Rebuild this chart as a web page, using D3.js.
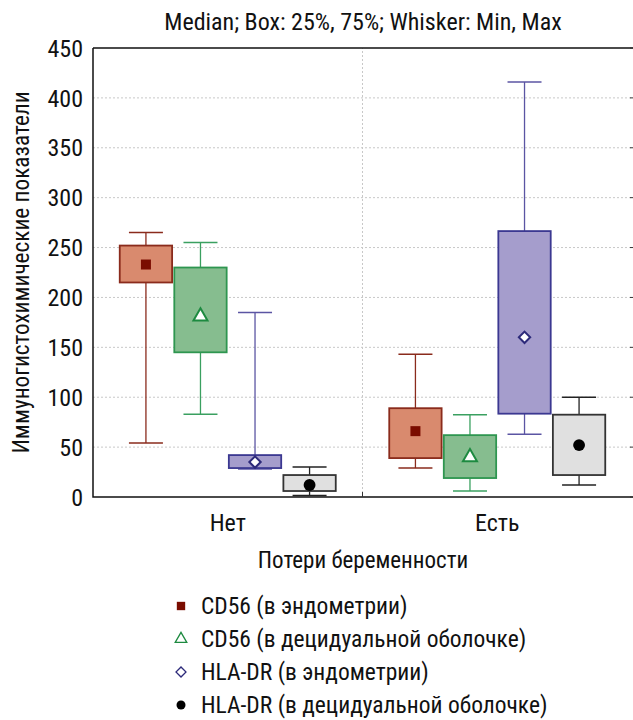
<!DOCTYPE html>
<html>
<head>
<meta charset="utf-8">
<script src="https://cdn.jsdelivr.net/npm/d3@7"></script>
<style>
body { margin: 0; background: #fff; }
svg text { font-family: "Roboto Condensed", "Liberation Sans Narrow", "DejaVu Sans Condensed", sans-serif; fill: #111; }
</style>
</head>
<body>
<svg id="chart" width="633" height="720"></svg>
<script>
// data
var groups = ["Нет", "Есть"];
var seriesNames = ["CD56 (в эндометрии)", "CD56 (в децидуальной оболочке)", "HLA-DR (в эндометрии)", "HLA-DR (в децидуальной оболочке)"];
var yTicks = [0, 50, 100, 150, 200, 250, 300, 350, 400, 450];
// per series: [Нет, Есть]
var minVals    = [[54, 29], [83, 6], [28, 63], [1.5, 12]];
var q1Vals     = [[215, 39], [145, 19], [29, 83.5], [6, 22]];
var medianVals = [[233, 66], [181, 40], [35, 160], [12, 52]];
var q3Vals     = [[252, 89], [230, 62], [42, 266.5], [22, 82.5]];
var maxVals    = [[265, 143], [255, 82.5], [185, 416], [30, 100]];

var fills   = ["#d98a6e", "#86bd8f", "#a59dcc", "#e0e0e0"];
var strokes = ["#8a2b1c", "#2e9650", "#3b3891", "#333333"];
var whisk   = ["#8a2b1c", "#3aa060", "#5b55a3", "#222222"];
// diamond is a square turned by 45 degrees
var symbols = [d3.symbolSquare, d3.symbolTriangle, d3.symbolSquare, d3.symbolCircle];
var markFill   = ["#7a0c00", "#fff", "#fff", "#000"];
var markStroke = ["none", "#1d8a40", "#2d2a7a", "none"];

var W = 633, H = 720;
var margin = {top: 48, right: 1, bottom: 223, left: 93};

var svg = d3.select("#chart");

var x = d3.scaleBand()
	.domain(groups)
	.range([margin.left, W - margin.right]);

var y = d3.scaleLinear()
	.domain([0, 450])
	.range([H - margin.bottom, margin.top]);

// position of each series inside a group
var inner = d3.scaleBand()
	.domain(d3.range(seriesNames.length))
	.range([-108, 108])
	.paddingInner(0.04);

// grid
svg.append("g")
	.selectAll("line").data(yTicks.slice(1, -1)).enter().append("line")
		.attr("x1", margin.left).attr("x2", W - margin.right)
		.attr("y1", d => y(d)).attr("y2", d => y(d))
		.attr("stroke", "#c8c8c8").attr("stroke-dasharray", "2,2");

var splitX = x.range()[0] + x.bandwidth();
svg.append("line")
	.attr("x1", splitX).attr("x2", splitX)
	.attr("y1", y(0)).attr("y2", y(450))
	.attr("stroke", "#c8c8c8").attr("stroke-dasharray", "2,2");

// boxes
var rows = [];
seriesNames.forEach(function(s, i) {
	groups.forEach(function(g, j) {
		rows.push({s: i, g: g, min: minVals[i][j], q1: q1Vals[i][j], med: medianVals[i][j], q3: q3Vals[i][j], max: maxVals[i][j]});
	});
});

var bw = inner.bandwidth();
var item = svg.append("g").selectAll("g").data(rows).enter().append("g")
	.attr("transform", d => `translate(${x(d.g) + x.bandwidth() / 2 + inner(d.s)},0)`);

item.append("line")
	.attr("x1", bw / 2).attr("x2", bw / 2)
	.attr("y1", d => y(d.max)).attr("y2", d => y(d.min))
	.attr("stroke", d => whisk[d.s]).attr("stroke-width", 1.3);

item.selectAll(".cap").data(d => [d, d]).enter().append("line")
	.attr("x1", bw / 2 - 17).attr("x2", bw / 2 + 17)
	.attr("y1", (d, k) => y(k ? d.min : d.max)).attr("y2", (d, k) => y(k ? d.min : d.max))
	.attr("stroke", d => whisk[d.s]).attr("stroke-width", 1.5);

item.append("rect")
	.attr("x", 0).attr("width", bw)
	.attr("y", d => y(d.q3)).attr("height", d => y(d.q1) - y(d.q3))
	.attr("fill", d => fills[d.s]).attr("stroke", d => strokes[d.s]).attr("stroke-width", 1.8);

function marker(sel, sizes, sw) {
	sel.attr("d", d => d3.symbol(symbols[d.s], sizes[d.s])())
		.attr("fill", d => markFill[d.s])
		.attr("stroke", d => markStroke[d.s])
		.attr("stroke-width", sw);
}

item.append("path")
	.attr("transform", d => `translate(${bw / 2},${y(d.med)})` + (d.s === 2 ? " rotate(45)" : ""))
	.call(marker, [100, 85, 64, 110], 2);

// axes frame
svg.append("path")
	.attr("d", `M${margin.left},${y(450)}H${W}M${margin.left},${y(450)}V${y(0)}H${W}`)
	.attr("fill", "none").attr("stroke", "#111").attr("stroke-width", 1.5);

svg.append("line")
	.attr("x1", splitX).attr("x2", splitX)
	.attr("y1", y(0)).attr("y2", y(0) - 5).attr("stroke", "#333");

svg.append("g")
	.selectAll("line").data(yTicks).enter().append("line")
		.attr("x1", W - 3).attr("x2", W)
		.attr("y1", d => y(d)).attr("y2", d => y(d))
		.attr("stroke", "#333");

svg.append("g")
	.selectAll("text").data(yTicks).enter().append("text")
		.attr("x", margin.left - 10).attr("y", d => y(d))
		.attr("dy", "0.36em")
		.attr("text-anchor", "end")
		.attr("font-size", 24)
		.text(d => d);

svg.append("g")
	.selectAll("text").data(groups).enter().append("text")
		.attr("x", d => x(d) + x.bandwidth() / 2).attr("y", y(0) + 34)
		.attr("text-anchor", "middle")
		.attr("font-size", 24)
		.text(d => d);

var midX = (margin.left + W) / 2;
svg.append("text")
	.attr("x", midX).attr("y", 30)
	.attr("text-anchor", "middle").attr("font-size", 24)
	.text("Median; Box: 25%, 75%; Whisker: Min, Max");

svg.append("text")
	.attr("x", midX).attr("y", 568)
	.attr("text-anchor", "middle").attr("font-size", 23)
	.text("Потери беременности");

svg.append("text")
	.attr("transform", `translate(29,${(y(0) + y(450)) / 2}) rotate(-90)`)
	.attr("text-anchor", "middle").attr("font-size", 23.3)
	.text("Иммуногистохимические показатели");

// legend
var leg = svg.append("g").selectAll("g").data(seriesNames).enter().append("g")
	.attr("transform", (d, i) => `translate(181,${606 + i * 33})`);

leg.append("path")
	.datum((d, i) => ({s: i}))
	.attr("transform", d => d.s === 2 ? "rotate(45)" : null)
	.call(marker, [70, 58, 50, 64], 1.3);

leg.append("text")
	.attr("x", 20).attr("dy", "0.36em")
	.attr("font-size", 23.5)
	.text(d => d);
</script>
</body>
</html>
